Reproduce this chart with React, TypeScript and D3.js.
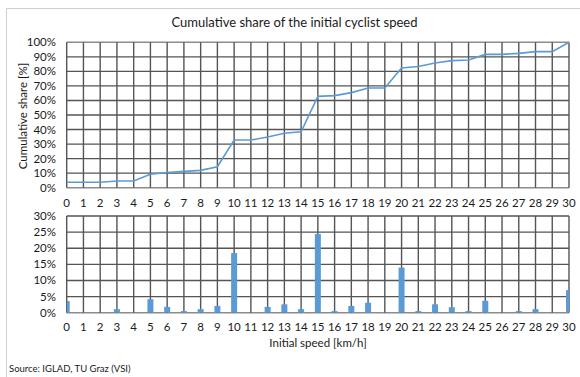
import React from "react";
import * as d3 from "d3";

const speeds: number[] = d3.range(0, 31);
const cumulativeShare: number[] = [
  3.7, 3.7, 3.7, 4.6, 4.6, 9.2, 10.5, 11.2, 11.9, 14.4, 32.8, 32.8, 34.9, 37.4, 38.5,
  62.8, 63.3, 65.4, 68.6, 68.6, 82.3, 83.3, 85.8, 87.4, 87.8, 91.7, 91.7, 92.4, 93.6, 93.6, 100,
];
const share: number[] = [
  3.6, 0, 0, 1.1, 0, 4.2, 1.8, 0.5, 1.1, 2.1, 18.5, 0, 1.8, 2.6, 1.1,
  24.4, 0.5, 2.1, 3.1, 0, 14.0, 0.5, 2.6, 1.7, 0.5, 3.7, 0, 0.5, 1.1, 0, 7.0,
];
const topTicks: number[] = d3.range(0, 101, 10);
const bottomTicks: number[] = d3.range(0, 31, 5);

const title = "Cumulative share of the initial cyclist speed";
const yTitle = "Cumulative share [%]";
const xTitle = "Initial speed [km/h]";
const source = "Source: IGLAD, TU Graz (VSI)";

const W = 580;
const H = 377;
const FONT = "Lato, 'Open Sans', sans-serif";
const BLUE = "#5B9BD5";
const GRID = "#555555";
const TXT = "#1a1a1a";

export default function App() {
  const x = d3.scaleLinear().domain([0, 30]).range([66.7, 569]);
  const yTop = d3.scaleLinear().domain([0, 100]).range([187.7, 42.3]);
  const yBot = d3.scaleLinear().domain([0, 30]).range([312.7, 216]);

  const line = d3
    .line<number>()
    .x((_, i) => x(speeds[i]))
    .y((d) => yTop(d));

  const barW = 6;

  const xLabels = (yPos: number) =>
    speeds.map((s) => (
      <text key={s} x={x(s)} y={yPos} textAnchor="middle" fontSize={11.5} fill={TXT}>
        {s}
      </text>
    ));

  return (
    <svg
      width={W}
      height={H}
      style={{ position: "absolute", left: 0, top: 0, fontFamily: FONT }}
    >
      <rect x={0} y={0} width={W} height={H} fill="#fff" />
      <line x1={6.5} x2={W} y1={8.5} y2={8.5} stroke="#cfcfcf" />
      <line x1={6.5} x2={6.5} y1={8.5} y2={H} stroke="#cfcfcf" />

      <text x={294.5} y={27} textAnchor="middle" fontSize={13} fill={TXT}>
        {title}
      </text>

      <g>
        {topTicks.map((t) => (
          <line key={t} x1={x(0)} x2={x(30)} y1={yTop(t)} y2={yTop(t)} stroke={t === 0 || t === 100 ? "#8c8c8c" : GRID} strokeWidth={1.4} />
        ))}
        {speeds.map((s) => (
          <line key={s} x1={x(s)} x2={x(s)} y1={yTop(100)} y2={yTop(0)} stroke={GRID} strokeWidth={1.4} />
        ))}
        {topTicks.map((t) => (
          <text key={t} x={56} y={yTop(t) + 4} textAnchor="end" fontSize={11.5} fill={TXT}>
            {t}%
          </text>
        ))}
        <path d={line(cumulativeShare) ?? ""} fill="none" stroke={BLUE} strokeWidth={1.6} />
        {xLabels(207)}
        <text
          transform={`translate(26.5,116) rotate(-90)`}
          textAnchor="middle"
          fontSize={11.5}
          fill={TXT}
        >
          {yTitle}
        </text>
      </g>

      <g>
        {bottomTicks.map((t) => (
          <line key={t} x1={x(0)} x2={x(30)} y1={yBot(t)} y2={yBot(t)} stroke={t === 0 ? "#8c8c8c" : GRID} strokeWidth={1.4} />
        ))}
        {speeds.map((s) => (
          <line key={s} x1={x(s)} x2={x(s)} y1={yBot(30)} y2={yBot(0)} stroke={GRID} strokeWidth={1.4} />
        ))}
        <clipPath id="bclip">
          <rect x={x(0)} y={yBot(30)} width={x(30) - x(0)} height={yBot(0) - yBot(30)} />
        </clipPath>
        <g clipPath="url(#bclip)">
          {share.map((v, i) =>
            v > 0 ? (
              <rect
                key={i}
                x={x(speeds[i]) - barW / 2}
                y={yBot(v)}
                width={barW}
                height={yBot(0) - yBot(v)}
                fill={BLUE}
              />
            ) : null
          )}
        </g>
        {bottomTicks.map((t) => (
          <text key={t} x={56} y={yBot(t) + 4} textAnchor="end" fontSize={11.5} fill={TXT}>
            {t}%
          </text>
        ))}
        {xLabels(331)}
        <text x={318} y={347} textAnchor="middle" fontSize={11.5} fill={TXT}>
          {xTitle}
        </text>
      </g>

      <text x={9} y={372} fontSize={9.5} fill={TXT}>
        {source}
      </text>
    </svg>
  );
}
